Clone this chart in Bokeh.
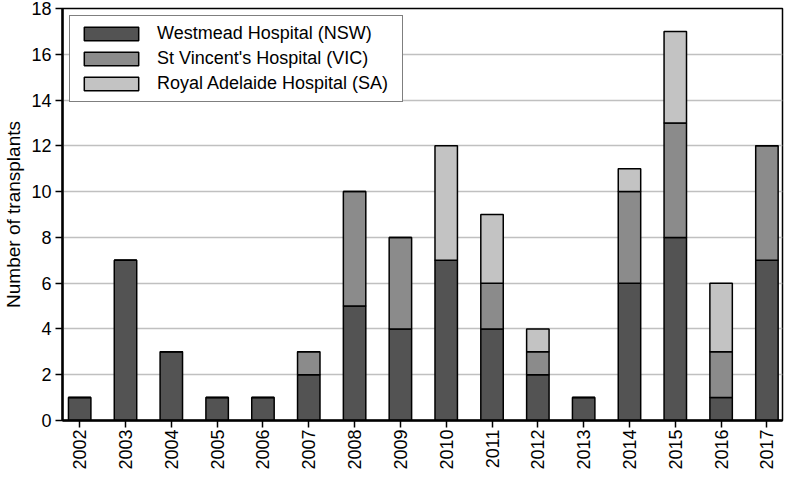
from bokeh.plotting import figure
from bokeh.models import Range1d, FixedTicker, Legend, LegendItem, ColumnDataSource
from bokeh.embed import file_html
from bokeh.resources import INLINE

years = ["2002", "2003", "2004", "2005", "2006", "2007", "2008", "2009",
         "2010", "2011", "2012", "2013", "2014", "2015", "2016", "2017"]
westmead = [1, 7, 3, 1, 1, 2, 5, 4, 7, 4, 2, 1, 6, 8, 1, 7]
st_vincent = [0, 0, 0, 0, 0, 1, 5, 4, 0, 2, 1, 0, 4, 5, 2, 5]
adelaide = [0, 0, 0, 0, 0, 0, 0, 0, 5, 3, 1, 0, 1, 4, 3, 0]
series_names = ["Westmead Hospital (NSW)", "St Vincent's Hospital (VIC)", "Royal Adelaide Hospital (SA)"]
colors = ["#535353", "#8b8b8b", "#c3c3c3"]
y_ticks = [0, 2, 4, 6, 8, 10, 12, 14, 16, 18]

FONT = "Liberation Sans"

xs = list(range(len(years)))
src = ColumnDataSource(dict(x=xs, w=westmead, v=st_vincent, a=adelaide))

p = figure(width=784, height=472, output_backend="svg", toolbar_location=None,
           x_range=Range1d(-0.375, 15.34), y_range=Range1d(0, 18),
           min_border_top=8, min_border_right=2, min_border_left=4, min_border_bottom=0)

renderers = p.vbar_stack(["w", "v", "a"], x="x", width=0.49, source=src,
                         fill_color=colors, line_color="black", line_width=1.5)

p.xaxis.ticker = FixedTicker(ticks=xs)
p.xaxis.major_label_overrides = {i: y for i, y in enumerate(years)}
p.xaxis.major_label_orientation = 1.5708
p.yaxis.ticker = FixedTicker(ticks=y_ticks)

for ax in (p.xaxis[0], p.yaxis[0]):
    ax.axis_line_color = "black"
    ax.axis_line_width = 2.5
    ax.major_tick_line_color = "black"
    ax.major_tick_line_width = 1.5
    ax.major_tick_out = 7
    ax.major_tick_in = 0
    ax.minor_tick_line_color = None
    ax.major_label_text_font = FONT
    ax.major_label_text_font_size = "18px"
    ax.major_label_text_color = "black"
    ax.major_label_standoff = 4
p.xaxis.major_label_standoff = 2

p.yaxis.axis_label = "Number of transplants"
p.yaxis.axis_label_text_font = FONT
p.yaxis.axis_label_text_font_size = "19px"
p.yaxis.axis_label_text_font_style = "normal"
p.yaxis.axis_label_text_color = "black"
p.yaxis.axis_label_standoff = 4

p.xgrid.grid_line_color = None
p.ygrid.grid_line_color = "#c0c0c0"
p.ygrid.grid_line_width = 1.5

p.outline_line_color = "black"
p.outline_line_width = 1.5
p.outline_line_alpha = 1
p.background_fill_color = "white"
p.border_fill_color = "white"

legend = Legend(items=[LegendItem(label=n, renderers=[r]) for n, r in zip(series_names, renderers)],
                location="top_left")
legend.label_text_font = FONT
legend.label_text_font_size = "18px"
legend.label_text_color = "black"
legend.glyph_width = 68
legend.glyph_height = 17
legend.label_height = 17
legend.label_width = 238
legend.label_standoff = 12
legend.spacing = 4
legend.padding = 7
legend.margin = 7
legend.border_line_color = "black"
legend.border_line_width = 1.5
legend.background_fill_alpha = 1
p.add_layout(legend)

open("out.html", "w").write(file_html(p, INLINE))
